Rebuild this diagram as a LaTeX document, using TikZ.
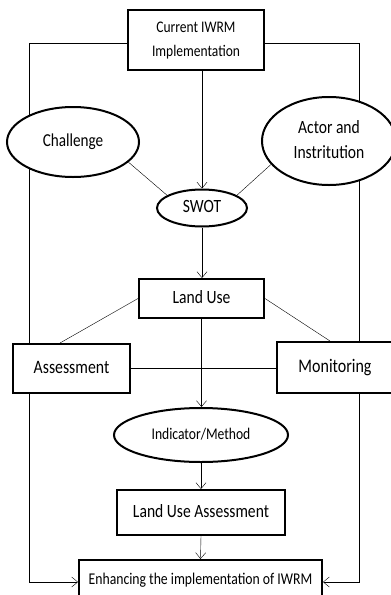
\documentclass[tikz,border=0pt]{standalone}
\usepackage{fontspec}
\setmainfont{Carlito}
\usetikzlibrary{arrows.meta,shapes.geometric,backgrounds,calc}
\newcommand{\ST}[3]{\scalebox{1}[1.2]{\fontsize{#1}{#2}\selectfont\begin{tabular}{@{}c@{}}#3\end{tabular}}}
\tikzset{
  boxnode/.style={draw, rectangle, line width=2pt, fill=white, inner sep=0pt},
  ellnode/.style={draw, ellipse, line width=2pt, fill=white, inner sep=0pt},
  conn/.style={line width=1.4pt},
  arr/.style={-{Straight Barb[length=6pt,width=10pt]}}
}
\begin{document}
\begin{tikzpicture}[x=1pt,y=-1pt]
\useasboundingbox (0,0) rectangle (391,595);
\node[boxnode, minimum width=136pt, minimum height=60pt] (top) at (196,40) {\ST{13.5}{19.5}{Current IWRM\\Implementation}};
\node[ellnode, minimum width=132pt, minimum height=70pt] (chal) at (73,142) {\ST{15.2}{20}{Challenge}};
\node[ellnode, minimum width=134pt, minimum height=88pt] (actor) at (329,141) {\ST{15.6}{21}{Actor and\\Instritution}};
\node[ellnode, minimum width=90pt, minimum height=37pt] (swot) at (202,208) {\ST{15.6}{20}{SWOT}};
\node[boxnode, minimum width=125pt, minimum height=39pt] (land) at (201.5,298.5) {\ST{15.6}{20}{Land Use}};
\node[boxnode, minimum width=117pt, minimum height=49pt] (assess) at (71.5,368.5) {\ST{15.8}{20}{Assessment}};
\node[boxnode, minimum width=116pt, minimum height=51pt] (monit) at (335,367.5) {\ST{16}{20}{Monitoring}};
\node[ellnode, minimum width=174pt, minimum height=54pt] (ind) at (201,435) {\ST{13.6}{18}{Indicator/Method}};
\node[boxnode, minimum width=168pt, minimum height=45pt] (lua) at (201,512.5) {\ST{15.6}{20}{Land Use Assessment}};
\node[boxnode, minimum width=243pt, minimum height=40pt] (enh) at (200.5,580) {\ST{13.7}{18}{Enhancing the implementation of IWRM}};
\coordinate (bl) at (29,582);
\coordinate (br) at (359,582);
\begin{scope}[on background layer, conn]
\draw[arr] ([yshift=-3pt]top.west) -| (bl) -- (enh.west |- bl);
\draw[arr] ([yshift=-3pt]top.east) -| (br) -- (enh.east |- br);
\draw[arr] (top.south -| swot.north) -- (swot.north);
\draw (chal.-20) -- (swot.160);
\draw (actor.202) -- (swot.20);
\draw[arr] (swot.south) -- (swot.south |- land.north);
\draw (land.west) -- ([xshift=-11.5pt]assess.north);
\draw (land.east) -- ([xshift=-5pt]monit.north);
\draw (assess.east) -- (assess.east -| monit.west);
\draw[arr] (land.south) -- (land.south |- ind.north);
\draw[arr] (ind.south) -- (lua.north);
\draw[arr] (lua.south) -- (enh.north);
\end{scope}
\end{tikzpicture}
\end{document}
